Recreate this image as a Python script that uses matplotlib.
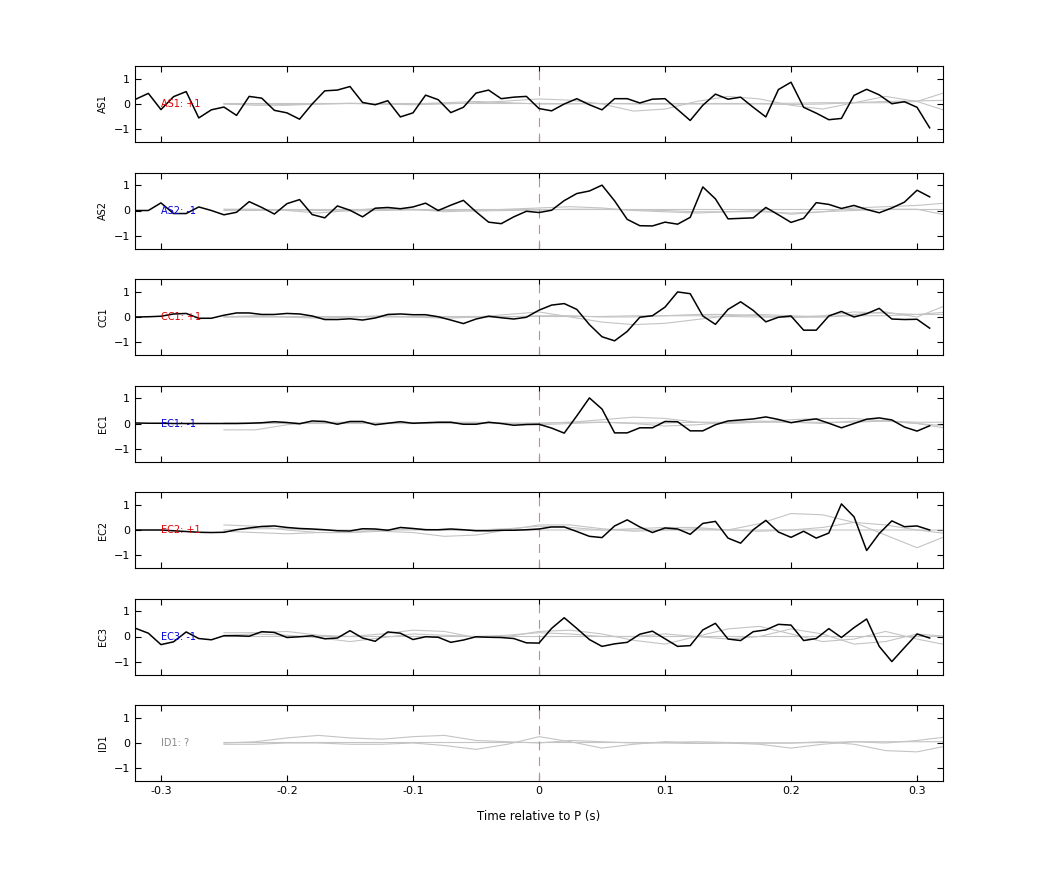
import numpy as np
import matplotlib
matplotlib.use("Agg")
import matplotlib.pyplot as plt

channels = ["AS1", "AS2", "CC1", "EC1", "EC2", "EC3", "ID1"]
labels = ["AS1: +1", "AS2: -1", "CC1: +1", "EC1: -1", "EC2: +1", "EC3: -1", "ID1: ?"]
label_colors = ["#dd0000", "#0000dd", "#dd0000", "#0000dd", "#dd0000", "#0000dd", "#888888"]

# black traces sampled every 10 ms from -0.32 to 0.31 s
t_black = np.round(np.arange(-0.32, 0.315, 0.01), 3)

as1 = [0.19, 0.42, -0.22, 0.29, 0.49, -0.55, -0.23, -0.12, -0.45, 0.30, 0.23, -0.25, -0.35, -0.60,
       0.0, 0.52, 0.55, 0.69, 0.06, -0.03, 0.13, -0.51, -0.35, 0.35, 0.17, -0.34, -0.13, 0.43,
       0.55, 0.21, 0.27, 0.30, -0.18, -0.27, 0.0, 0.21, -0.03, -0.23, 0.21, 0.21, 0.04, 0.19,
       0.21, -0.22, -0.65, -0.05, 0.39, 0.19, 0.27, -0.13, -0.51, 0.57, 0.86, -0.13, -0.36,
       -0.62, -0.57, 0.34, 0.58, 0.36, 0.01, 0.09, -0.13, -0.94]
as2 = [0.0, 0.0, 0.30, -0.12, -0.12, 0.14, 0.0, -0.17, -0.07, 0.35, 0.12, -0.14, 0.27, 0.43,
       -0.16, -0.29, 0.18, 0.01, -0.25, 0.09, 0.12, 0.07, 0.14, 0.29, 0.0, 0.21, 0.40, -0.05,
       -0.46, -0.52, -0.25, -0.03, -0.08, 0.01, 0.39, 0.67, 0.77, 1.0, 0.38, -0.35, -0.60,
       -0.61, -0.46, -0.54, -0.27, 0.93, 0.46, -0.33, -0.31, -0.29, 0.12, -0.17, -0.47, -0.31,
       0.31, 0.24, 0.08, 0.20, 0.04, -0.09, 0.10, 0.33, 0.80, 0.54]
cc1 = [0.0, 0.01, 0.03, 0.12, 0.14, -0.05, -0.05, 0.07, 0.16, 0.16, 0.10, 0.10, 0.14, 0.12,
       0.04, -0.10, -0.10, -0.07, -0.12, -0.04, 0.10, 0.12, 0.09, 0.09, 0.01, -0.12, -0.26,
       -0.08, 0.03, -0.03, -0.08, -0.01, 0.27, 0.47, 0.53, 0.30, -0.30, -0.78, -0.94, -0.57,
       -0.01, 0.05, 0.39, 0.99, 0.92, 0.04, -0.29, 0.30, 0.60, 0.26, -0.19, -0.01, 0.04, -0.52,
       -0.52, 0.04, 0.22, 0.0, 0.13, 0.34, -0.08, -0.10, -0.09, -0.44]
ec1 = [0.02, 0.01, 0.01, 0.0, 0.0, 0.0, 0.0, 0.0, 0.0, 0.01, 0.03, 0.07, 0.04, -0.01, 0.10,
       0.08, -0.03, 0.08, 0.08, -0.05, 0.01, 0.07, 0.01, 0.03, 0.05, 0.05, -0.03, -0.03, 0.05,
       0.0, -0.07, -0.04, -0.03, -0.18, -0.38, 0.30, 1.01, 0.57, -0.37, -0.37, -0.17, -0.17,
       0.08, 0.07, -0.29, -0.29, -0.05, 0.10, 0.14, 0.18, 0.26, 0.16, 0.03, 0.12, 0.18, 0.01,
       -0.17, 0.0, 0.17, 0.22, 0.14, -0.14, -0.30, -0.09]
ec2 = [0.0, 0.0, 0.0, -0.03, -0.06, -0.09, -0.10, -0.09, 0.01, 0.08, 0.14, 0.16, 0.10, 0.06,
       0.04, 0.01, -0.03, -0.04, 0.05, 0.04, -0.01, 0.10, 0.06, 0.01, 0.01, 0.04, 0.01, -0.03,
       -0.03, -0.01, -0.01, 0.01, 0.04, 0.12, 0.12, -0.06, -0.25, -0.30, 0.16, 0.40, 0.12,
       -0.10, 0.08, 0.04, -0.17, 0.26, 0.34, -0.32, -0.52, 0.01, 0.38, -0.08, -0.29, -0.05,
       -0.32, -0.12, 1.03, 0.52, -0.81, -0.14, 0.36, 0.13, 0.16, 0.0]
ec3 = [0.32, 0.13, -0.32, -0.21, 0.18, -0.08, -0.13, 0.03, 0.03, 0.01, 0.19, 0.16, -0.04,
       -0.01, 0.03, -0.09, -0.06, 0.23, -0.06, -0.19, 0.18, 0.13, -0.12, -0.01, -0.03, -0.23,
       -0.14, -0.01, -0.03, -0.04, -0.08, -0.25, -0.26, 0.32, 0.74, 0.32, -0.12, -0.39, -0.29,
       -0.23, 0.09, 0.21, -0.09, -0.39, -0.36, 0.26, 0.52, -0.10, -0.16, 0.19, 0.26, 0.48, 0.45,
       -0.16, -0.08, 0.31, -0.04, 0.35, 0.69, -0.39, -0.99, -0.44, 0.10, -0.06]
black_traces = [as1, as2, cc1, ec1, ec2, ec3, None]

# grey reference traces sampled every 25 ms from -0.25 to 0.325 s
t_grey = np.round(np.arange(-0.25, 0.33, 0.025), 3)
grey_traces = [
    [[0.0, 0.0, -0.02, 0.0, 0.02, 0.0, -0.03, 0.0, 0.05, 0.12, 0.2, 0.15, 0.0, -0.28, -0.2,
      0.1, 0.3, 0.2, -0.05, -0.2, 0.05, 0.3, 0.1, -0.3],
     [0.0, -0.05, -0.05, 0.0, 0.03, 0.0, 0.0, 0.05, 0.1, 0.05, 0.0, 0.0, 0.02, 0.0, 0.0, 0.0,
      0.0, 0.0, -0.02, 0.0, 0.05, 0.1, 0.12, 0.15],
     [0.02, 0.02, 0.02, 0.02, 0.02, 0.02, 0.02, 0.02, 0.02, 0.02, 0.02, 0.02, 0.02, 0.02,
      0.02, 0.02, 0.02, 0.02, 0.03, 0.05, 0.05, 0.05, 0.1, 0.5]],
    [[0.05, 0.05, 0.0, -0.1, 0.0, 0.1, 0.05, -0.05, 0.0, 0.05, 0.1, 0.15, 0.1, 0.0, -0.05,
      -0.1, -0.05, 0.0, -0.15, -0.05, 0.1, 0.15, 0.2, 0.3],
     [0.0, 0.0, 0.02, 0.0, -0.02, 0.0, 0.02, 0.0, -0.02, 0.0, 0.02, 0.05, 0.05, 0.02, 0.0,
      -0.05, -0.05, -0.05, -0.1, -0.05, 0.0, 0.05, 0.05, -0.2],
     [0.05, 0.05, 0.05, 0.05, 0.05, 0.05, 0.05, 0.05, 0.05, 0.05, 0.05, 0.05, 0.05, 0.05,
      0.05, 0.05, 0.05, 0.05, 0.05, 0.05, 0.05, 0.05, 0.05, 0.05]],
    [[0.0, 0.05, 0.0, -0.05, 0.0, 0.05, 0.0, -0.05, 0.0, 0.1, 0.2, 0.0, -0.2, -0.3, -0.25,
      -0.1, 0.05, 0.1, 0.05, 0.0, 0.1, 0.2, 0.0, 0.5],
     [0.0, 0.0, 0.0, 0.0, 0.0, 0.0, 0.0, 0.0, 0.0, 0.0, 0.05, 0.05, 0.0, 0.0, 0.05, 0.1,
      0.1, 0.05, 0.0, 0.05, 0.2, 0.15, 0.1, 0.2],
     [0.02, 0.02, 0.02, 0.02, 0.02, 0.02, 0.02, 0.02, 0.02, 0.02, 0.02, 0.02, 0.02, 0.05,
      0.05, 0.05, 0.02, 0.0, -0.02, 0.0, 0.05, 0.05, 0.1, 0.1]],
    [[-0.25, -0.25, -0.05, 0.05, 0.05, 0.0, 0.0, 0.05, 0.05, 0.0, 0.0, 0.05, 0.15, 0.25,
      0.2, 0.05, 0.0, 0.05, 0.15, 0.2, 0.2, 0.1, 0.0, -0.1],
     [0.0, 0.0, 0.0, 0.0, 0.0, 0.0, 0.0, 0.0, 0.0, 0.0, -0.05, 0.0, 0.05, 0.0, -0.1, -0.05,
      0.05, 0.1, 0.05, 0.0, 0.1, 0.1, 0.0, -0.2],
     [0.02, 0.02, 0.02, 0.02, 0.02, 0.02, 0.02, 0.02, 0.02, 0.02, 0.02, 0.05, 0.05, 0.02,
      0.02, 0.05, 0.05, 0.05, 0.05, 0.05, 0.05, 0.1, 0.05, 0.05]],
    [[0.2, 0.15, 0.0, -0.1, -0.1, -0.05, -0.1, -0.25, -0.2, 0.0, 0.2, 0.2, 0.05, -0.05,
      0.0, 0.05, 0.0, 0.25, 0.65, 0.6, 0.3, -0.2, -0.7, -0.2],
     [-0.05, -0.1, -0.15, -0.1, -0.1, 0.0, 0.05, 0.0, 0.0, 0.05, 0.15, 0.1, 0.0, 0.05, 0.1,
      0.1, 0.0, -0.05, 0.0, 0.1, 0.3, 0.2, 0.0, -0.15],
     [0.0, 0.05, 0.05, 0.0, 0.0, 0.0, 0.0, 0.0, 0.0, 0.0, 0.0, 0.0, 0.0, 0.0, 0.0, 0.0, 0.0,
      0.0, 0.0, 0.0, 0.0, 0.0, 0.0, 0.0]],
    [[0.15, 0.15, 0.2, 0.05, 0.0, 0.1, 0.25, 0.2, -0.05, 0.0, 0.2, 0.25, 0.1, -0.15, -0.3,
      0.0, 0.3, 0.4, 0.1, -0.2, -0.1, 0.2, -0.1, -0.35],
     [0.05, 0.1, 0.05, -0.05, -0.2, -0.05, 0.1, 0.05, 0.0, 0.05, 0.15, 0.1, 0.0, 0.0, 0.1,
      0.0, -0.1, 0.0, 0.3, 0.1, -0.3, -0.2, 0.1, 0.0],
     [0.02, 0.02, 0.02, 0.02, 0.02, 0.02, 0.02, 0.02, 0.02, 0.02, 0.02, 0.02, 0.02, 0.02,
      0.02, 0.02, 0.02, 0.02, 0.02, 0.02, 0.02, 0.02, 0.02, 0.02]],
    [[0.0, 0.05, 0.2, 0.3, 0.2, 0.15, 0.25, 0.3, 0.1, 0.05, 0.0, 0.1, 0.05, 0.0, 0.0,
      -0.02, 0.0, -0.05, -0.2, -0.05, 0.05, 0.0, 0.1, 0.25],
     [-0.05, -0.05, 0.0, 0.0, -0.05, -0.05, 0.0, -0.1, -0.25, -0.05, 0.25, 0.05, -0.2,
      -0.05, 0.05, 0.0, 0.0, 0.0, 0.0, 0.05, -0.05, -0.3, -0.35, -0.1],
     [0.02, 0.02, 0.02, 0.02, 0.02, 0.02, 0.02, 0.02, 0.02, 0.02, 0.02, 0.02, 0.02, 0.02,
      0.02, 0.05, 0.02, 0.0, 0.0, 0.02, 0.05, 0.05, 0.05, 0.05]],
]

fig = plt.figure(figsize=(10.42, 8.75), dpi=100)
W, H = 1042, 875
left, right = 135, 943
top0, ph, step = 66, 76, 106.5

for i, ch in enumerate(channels):
    y0 = top0 + i * step
    ax = fig.add_axes([left / W, 1 - (y0 + ph) / H, (right - left) / W, ph / H])
    for g in grey_traces[i]:
        ax.plot(t_grey, g, color="#c4c4c4", lw=0.8)
    ax.axvline(0, color="#e08080", lw=0.8, ls=(0, (8, 6)))
    ax.text(-0.3, 0, labels[i], color=label_colors[i], fontsize=7, va="center", ha="left")
    if black_traces[i] is not None:
        ax.plot(t_black, black_traces[i], color="black", lw=1.1)
    ax.set_xlim(-0.3206, 0.3206)
    ax.set_ylim(-1.5, 1.5)
    ax.set_yticks([-1, 0, 1])
    ax.set_xticks([-0.3, -0.2, -0.1, 0, 0.1, 0.2, 0.3])
    ax.tick_params(direction="in", top=True, right=True, labelsize=8, length=4)
    ax.set_ylabel(ch, fontsize=7)
    if i < len(channels) - 1:
        ax.set_xticklabels([])
    else:
        ax.set_xticklabels(["-0.3", "-0.2", "-0.1", "0", "0.1", "0.2", "0.3"])
        ax.set_xlabel("Time relative to P (s)", fontsize=8.5, labelpad=10)

fig.savefig("out.png", dpi=100)
